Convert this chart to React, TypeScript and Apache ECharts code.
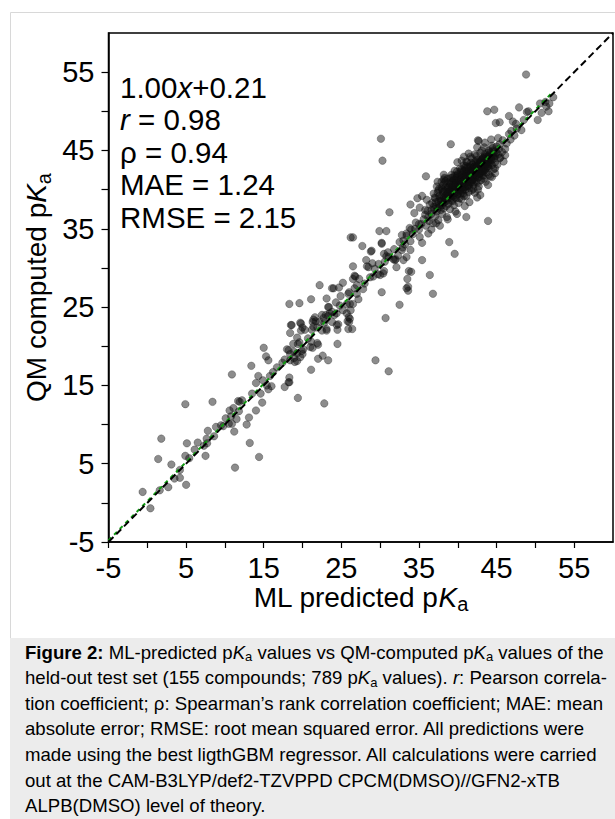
import React, { useEffect, useRef } from "react";
import * as echarts from "echarts";

// ---------- axis / ticks ----------
const axisMin = -5;
const axisMax = 60;
const tickStep = 5;
const xTickLabels = ["-5", "5", "15", "25", "35", "45", "55"];
const yTickLabels = ["-5", "5", "15", "25", "35", "45", "55"];

// ---------- reference lines ----------
const fitSlope = 1.0;
const fitIntercept = 0.21;
const fitXRange = [-5, 52];
const identityRange = [-5, 60];

// ---------- statistics box ----------
const statLines = [
  "{n|1.00}{i|x}{n|+0.21}",
  "{i|r}{n| = 0.98}",
  "{n|ρ = 0.94}",
  "{n|MAE = 1.24}",
  "{n|RMSE = 2.15}",
];

// ---------- caption ----------
const captionLines = [
  "{b|Figure 2:} ML-predicted p{i|K}{s|a} values vs QM-computed p{i|K}{s|a} values of the",
  "held-out test set (155 compounds; 789 p{i|K}{s|a} values). {i|r}: Pearson correla-",
  "tion coefficient; ρ: Spearman’s rank correlation coefficient; MAE: mean",
  "absolute error; RMSE: root mean squared error. All predictions were",
  "made using the best ligthGBM regressor. All calculations were carried",
  "out at the CAM-B3LYP/def2-TZVPPD CPCM(DMSO)//GFN2-xTB",
  "ALPB(DMSO) level of theory.",
];

// ---------- data: [ML predicted, QM computed] ----------
const lowPoints = [
  [-0.6, 1.4], [0.4, -0.7], [1.6, 1.6], [2.7, 2.0], [1.4, 5.6], [1.8, 8.2], [3.1, 4.9],
  [3.5, 3.1], [4.2, 3.2], [4.2, 4.2], [5.0, 2.3], [4.9, 6.0], [5.4, 5.7], [5.1, 7.6],
  [6.1, 6.8], [6.5, 7.7], [4.9, 12.6], [7.3, 7.3], [7.5, 6.0], [7.7, 7.6], [7.65, 8.2],
  [7.8, 9.2], [8.6, 8.5], [8.85, 9.7], [8.4, 12.9], [9.5, 9.9], [9.8, 9.8], [10.1, 10.8],
  [10.5, 10.1], [10.9, 10.1], [10.6, 11.8], [10.8, 11.05], [11.1, 12.1], [11.5, 10.7],
  [11.8, 11.7], [11.9, 12.9], [12.2, 13.1], [11.7, 13.0], [11.2, 9.1], [11.3, 4.5],
  [12.8, 10.0], [13.1, 10.9], [13.2, 7.65], [14.4, 5.86], [14.0, 11.8], [14.8, 12.8],
  [13.5, 13.95], [14.6, 13.95], [14.0, 15.3], [14.3, 16.2], [14.9, 15.65], [15.4, 15.0],
  [15.6, 14.5], [16.0, 14.9], [18.2, 15.4], [10.9, 16.4], [13.4, 17.5],
];

const midPoints = [
  [15.0, 19.8], [15.3, 18.7], [15.6, 18.2], [15.8, 16.2], [16.2, 16.7], [16.7, 17.3],
  [17.4, 17.9], [17.7, 18.3], [17.7, 14.8], [18.3, 16.0], [18.3, 15.4], [18.2, 19.5],
  [18.4, 19.0], [18.9, 18.5], [19.3, 18.1], [19.7, 18.6], [19.9, 19.4], [20.0, 19.0],
  [18.0, 19.6], [18.9, 19.3], [19.3, 19.1], [18.4, 18.2], [19.0, 18.0], [19.4, 13.4],
  [22.8, 12.7], [21.1, 17.0], [18.4, 21.7], [18.6, 22.7], [19.3, 21.1], [19.4, 20.3],
  [18.8, 20.3], [19.6, 20.5], [20.1, 19.6], [20.7, 21.0], [21.1, 20.6], [21.3, 19.8],
  [22.0, 20.2], [22.6, 18.8], [22.0, 18.4], [23.3, 18.2], [21.0, 19.9], [21.9, 20.4],
  [24.5, 20.3], [19.8, 22.9], [20.0, 22.4], [19.8, 22.0], [20.3, 22.1], [18.5, 22.7],
  [19.7, 23.0], [21.4, 23.4], [21.7, 23.2], [22.2, 23.1], [21.2, 22.1], [21.4, 22.5],
  [21.6, 23.7], [21.3, 23.1], [21.9, 22.4], [22.5, 22.0], [23.1, 22.2], [23.0, 24.0],
  [23.3, 25.0], [23.8, 24.4], [24.4, 24.2], [25.2, 24.6], [25.7, 24.2], [26.1, 23.5],
  [26.0, 23.1], [26.4, 22.2], [25.9, 22.2], [24.5, 22.1], [24.6, 22.8], [23.4, 25.0],
  [23.5, 24.2], [23.8, 23.1], [24.1, 24.0], [24.4, 22.7], [22.8, 23.0], [23.3, 23.9],
  [22.5, 24.0], [22.7, 23.6], [23.1, 22.0], [18.3, 25.4], [19.6, 25.5], [21.1, 26.0],
  [22.2, 27.8], [23.1, 26.1], [23.8, 27.4], [24.0, 27.4], [24.7, 27.5], [25.2, 28.1],
  [24.9, 26.4], [25.9, 26.7], [26.1, 25.4], [26.7, 27.4], [27.2, 26.0], [26.2, 24.6],
  [25.95, 23.7], [25.8, 23.2], [27.0, 26.7], [25.7, 25.4], [26.5, 25.4], [24.8, 25.2],
  [24.3, 25.6], [26.0, 26.9], [27.0, 27.8], [27.8, 27.3], [27.3, 28.6], [28.0, 28.0],
  [28.7, 28.8],
];

const upperPoints = [
  [26.2, 33.9], [26.5, 33.9], [26.5, 30.2], [26.8, 28.9], [26.5, 28.6], [26.7, 29.0],
  [27.7, 32.8], [28.9, 32.2], [28.2, 31.0], [28.3, 30.2], [28.8, 32.1], [28.5, 30.1],
  [29.3, 29.9], [30.0, 29.1], [30.4, 29.3], [29.1, 28.9], [29.7, 29.2], [30.5, 29.6],
  [30.2, 26.9], [30.7, 23.6], [29.4, 18.2], [31.1, 16.8], [32.5, 25.3], [33.5, 28.6],
  [33.6, 27.1], [33.4, 31.4], [32.9, 32.6], [33.4, 34.1], [29.9, 34.7], [30.8, 34.7],
  [30.2, 33.1], [30.5, 31.8], [30.8, 31.5], [31.7, 31.1], [32.0, 31.1], [31.2, 37.1],
  [30.1, 46.5], [30.3, 43.7], [32.8, 34.2], [33.4, 34.4], [33.0, 33.5], [33.9, 33.4],
  [35.4, 33.2], [35.1, 33.95], [36.2, 34.4], [36.6, 34.9], [37.2, 35.7], [37.7, 35.4],
  [38.6, 36.5], [39.9, 36.9], [41.1, 36.5], [43.9, 36.0], [42.9, 39.3], [38.9, 33.3],
  [39.6, 31.8], [35.4, 31.0], [36.4, 29.1], [36.8, 26.7], [33.7, 29.6], [34.0, 29.5],
  [33.6, 27.6], [33.4, 27.4], [30.2, 33.2], [31.1, 31.4], [32.3, 31.6], [32.8, 32.3],
  [33.9, 32.3], [33.0, 31.0], [31.9, 31.0], [32.1, 30.1], [34.4, 37.0], [35.1, 37.7],
  [35.8, 37.4], [33.9, 38.1], [34.8, 38.9], [35.4, 39.2], [35.9, 41.7], [37.4, 41.0],
  [38.1, 40.6], [37.6, 40.1], [38.2, 41.3], [39.1, 45.8], [39.95, 43.5], [40.5, 43.7],
  [42.5, 45.4], [42.7, 46.2], [42.6, 46.3], [34.5, 35.0], [35.0, 35.6], [34.0, 34.9],
  [33.2, 33.0], [32.5, 33.3], [31.8, 32.4], [31.0, 32.0], [30.6, 30.8], [29.8, 30.5],
  [29.0, 30.6],
];

const topPoints = [
  [48.8, 54.7], [43.8, 50.0], [44.7, 50.2], [44.9, 48.5], [45.4, 48.6], [46.6, 49.4],
  [47.9, 50.5], [47.1, 48.7], [47.5, 48.4], [49.1, 50.0], [48.9, 49.9], [50.3, 48.9],
  [50.8, 49.8], [50.6, 51.0], [51.3, 51.2], [51.8, 51.0], [51.7, 50.0], [52.3, 51.8],
  [51.4, 50.6], [46.6, 47.1], [45.2, 46.6], [46.1, 45.2], [46.1, 44.4], [45.4, 44.0],
  [44.4, 41.6], [44.8, 42.7], [43.4, 45.4],
];

const clusterPoints = [
  [35.6, 36.2], [35.9, 35.4], [36.1, 37.3], [36.3, 36.0], [36.4, 38.1], [36.6, 36.9],
  [36.8, 35.7], [36.9, 37.8], [37.0, 39.0], [37.1, 36.6], [37.2, 38.4], [37.3, 37.2],
  [37.4, 39.6], [37.5, 36.1], [37.6, 38.0], [37.7, 38.9], [37.8, 37.4], [37.9, 40.2],
  [38.0, 39.3], [38.0, 36.9], [38.1, 38.3], [38.2, 37.6], [38.3, 39.8], [38.3, 40.9],
  [38.4, 38.8], [38.5, 37.9], [38.6, 39.4], [38.7, 41.4], [38.7, 40.3], [38.8, 38.2],
  [38.9, 39.0], [39.0, 40.7], [39.0, 37.5], [39.1, 39.8], [39.2, 41.9], [39.2, 38.6],
  [39.3, 40.2], [39.4, 39.2], [39.4, 41.1], [39.5, 38.0], [39.6, 40.6], [39.6, 42.4],
  [39.7, 39.6], [39.8, 41.5], [39.8, 38.9], [39.9, 40.1], [40.0, 42.0], [40.0, 39.4],
  [40.1, 41.0], [40.1, 38.3], [40.2, 40.5], [40.3, 42.7], [40.3, 39.8], [40.4, 41.4],
  [40.5, 40.2], [40.5, 38.8], [40.6, 42.2], [40.6, 41.0], [40.7, 39.5], [40.8, 43.1],
  [40.8, 40.7], [40.9, 41.8], [41.0, 40.0], [41.0, 42.5], [41.1, 39.2], [41.2, 41.3],
  [41.2, 43.5], [41.3, 40.5], [41.4, 42.0], [41.4, 39.7], [41.5, 41.6], [41.6, 43.0],
  [41.6, 40.9], [41.7, 42.4], [41.8, 39.9], [41.8, 44.0], [41.9, 41.2], [42.0, 42.8],
  [42.0, 40.6], [42.1, 43.4], [42.2, 41.8], [42.2, 39.6], [42.3, 42.2], [42.4, 44.3],
  [42.4, 41.0], [42.5, 43.0], [42.6, 41.5], [42.6, 42.6], [42.7, 40.4], [42.8, 43.7],
  [42.8, 42.0], [42.9, 44.7], [43.0, 41.2], [43.0, 43.1], [43.1, 42.4], [43.2, 44.0],
  [43.3, 41.8], [43.3, 43.5], [43.4, 42.8], [43.5, 44.5], [43.6, 41.0], [43.6, 43.2],
  [43.7, 42.2], [43.8, 44.0], [43.9, 43.6], [44.0, 42.7], [44.0, 45.0], [44.1, 43.9],
  [44.2, 41.7], [44.3, 44.4], [44.4, 43.1], [44.5, 45.3], [44.6, 42.6], [44.7, 44.0],
  [44.8, 43.5], [45.0, 44.7], [45.1, 43.2], [45.3, 45.2], [45.5, 44.1], [45.7, 44.8],
  [45.9, 43.6], [38.6, 40.0], [38.9, 40.4], [39.1, 40.9], [39.3, 41.5], [39.5, 40.4],
  [39.7, 41.2], [39.9, 41.8], [40.0, 40.8], [40.2, 41.7], [40.4, 40.6], [40.4, 42.3],
  [40.7, 41.6], [40.9, 42.8], [41.1, 42.1], [41.1, 40.9], [41.3, 42.9], [41.5, 42.4],
  [41.7, 41.4], [41.9, 43.2], [42.1, 42.0], [42.3, 43.6], [42.5, 42.3], [42.7, 43.3],
  [42.9, 42.1], [43.1, 43.8], [43.4, 43.9], [43.7, 43.5], [43.9, 44.3], [44.2, 43.5],
  [44.6, 44.5], [40.2, 39.9], [40.6, 40.3], [41.0, 41.0], [41.3, 41.7], [41.7, 41.9],
  [42.0, 41.4], [42.4, 42.7], [42.8, 42.9], [43.2, 42.8], [43.5, 43.0], [39.0, 39.4],
  [39.4, 39.9], [38.4, 39.2], [38.1, 39.7], [37.8, 38.6], [37.4, 37.6], [37.0, 37.5],
  [36.6, 37.4], [36.2, 36.5], [35.8, 36.8], [35.3, 35.6], [35.0, 34.9], [34.6, 35.8],
  [34.2, 34.3], [33.8, 35.1], [36.0, 38.7], [36.9, 39.5], [37.3, 40.4], [38.2, 41.9],
  [40.8, 44.2], [41.4, 44.6], [43.5, 46.0], [44.3, 46.4], [45.8, 46.3], [44.8, 42.1],
  [43.9, 40.6], [42.5, 39.0], [41.5, 38.4], [40.9, 37.9], [39.7, 37.2], [38.7, 36.2],
  [46.3, 45.9], [46.8, 46.4], [47.3, 46.9], [47.6, 47.8], [46.9, 47.5], [48.2, 47.6],
  [48.5, 48.9],
];

const coreClusterPoints = [
  [37.6, 39.2], [37.9, 38.5], [38.2, 39.0], [38.4, 40.3], [38.6, 38.6], [38.8, 39.7],
  [38.9, 41.0], [39.1, 38.9], [39.2, 40.4], [39.3, 39.6], [39.5, 41.3], [39.6, 39.0],
  [39.8, 40.3], [39.9, 39.3], [40.0, 41.3], [40.1, 40.2], [40.3, 40.9], [40.4, 39.5],
  [40.5, 41.9], [40.6, 39.9], [40.7, 40.8], [40.8, 42.4], [40.9, 40.3], [41.0, 41.5],
  [41.1, 43.0], [41.2, 40.6], [41.3, 42.3], [41.4, 41.1], [41.5, 40.2], [41.6, 42.0],
  [41.7, 43.4], [41.8, 41.0], [41.9, 42.6], [42.0, 41.9], [42.1, 40.9], [42.2, 43.0],
  [42.3, 41.6], [42.4, 42.4], [42.5, 43.8], [42.6, 40.9], [42.7, 42.8], [42.8, 41.6],
  [42.9, 43.5], [43.0, 42.6], [43.1, 41.8], [43.2, 43.3], [43.3, 42.3], [43.4, 44.2],
  [43.5, 42.5], [43.6, 43.8], [43.8, 42.9], [43.9, 44.7], [44.0, 43.3], [44.2, 44.8],
  [44.4, 43.8], [44.6, 45.0], [44.8, 44.3], [45.0, 45.5], [45.2, 44.5], [45.4, 45.8],
  [36.7, 38.3], [37.1, 38.9], [37.5, 39.9], [37.9, 41.0], [38.3, 41.5],
];

const denseCorePoints = [
  [38.0, 38.0], [38.3, 38.4], [38.5, 38.9], [38.8, 39.2], [39.0, 39.9], [39.2, 39.3],
  [39.4, 40.6], [39.5, 39.6], [39.7, 40.0], [39.8, 40.8], [40.0, 40.0], [40.1, 40.6],
  [40.2, 41.2], [40.3, 40.4], [40.4, 41.0], [40.5, 40.7], [40.6, 41.5], [40.7, 40.1],
  [40.8, 41.1], [40.9, 41.4], [41.0, 40.5], [41.1, 41.8], [41.2, 42.0], [41.3, 41.2],
  [41.4, 42.5], [41.5, 41.0], [41.6, 41.7], [41.7, 42.8], [41.8, 42.2], [41.9, 41.7],
  [42.0, 42.4], [42.1, 42.9], [42.2, 42.3], [42.3, 42.8], [42.4, 41.9], [42.5, 42.8],
  [42.6, 43.4], [42.7, 42.1], [42.8, 43.2], [42.9, 42.6], [43.0, 43.6], [43.1, 43.1],
  [43.2, 42.4], [43.3, 44.0], [43.4, 43.3], [43.5, 43.6], [43.6, 42.7], [43.7, 44.2],
  [43.8, 43.3], [43.9, 43.0], [44.0, 44.1], [44.1, 44.5], [44.3, 43.9], [44.5, 44.3],
  [44.7, 44.8], [37.2, 37.9], [37.5, 38.5], [37.7, 37.8], [38.0, 40.0], [38.4, 41.1],
  [38.7, 39.4], [39.1, 41.5], [39.3, 38.5], [39.6, 41.8], [39.9, 42.3], [40.2, 38.9],
  [40.5, 42.6], [40.8, 39.2], [41.1, 43.6], [41.4, 40.5], [41.6, 44.2], [42.0, 40.1],
  [42.2, 44.5], [42.6, 40.0], [43.1, 45.0], [43.4, 41.4], [44.0, 41.9], [44.4, 45.6],
];

const FONT = "'Liberation Sans', Arial, Helvetica, sans-serif";

export default function App() {
  const ref = useRef<HTMLDivElement>(null);

  useEffect(() => {
    if (!ref.current) return;
    const chart = echarts.init(ref.current, undefined, { renderer: "svg" });

    const allPoints = [
      ...lowPoints,
      ...midPoints,
      ...upperPoints,
      ...topPoints,
      ...clusterPoints,
      ...coreClusterPoints,
      ...denseCorePoints,
    ];

    const fitLine = fitXRange.map((x) => [x, fitSlope * x + fitIntercept]);
    const idLine = identityRange.map((v) => [v, v]);

    const gridLeft = 108.5;
    const gridTop = 33;
    const gridW = 504.5;
    const gridH = 509;

    const nameRich = {
      i: { fontSize: 28, fontStyle: "italic", fontFamily: FONT, lineHeight: 34, color: "#000" },
      s: { fontSize: 20, fontFamily: FONT, lineHeight: 14, verticalAlign: "bottom", color: "#000" },
    };

    const statGraphics = statLines.map((t, k) => ({
      type: "text",
      x: 120,
      y: 87 + k * 32.5,
      silent: true,
      style: {
        text: t,
        fill: "#000",
        verticalAlign: "middle",
        align: "left",
        font: `29.5px ${FONT}`,
        rich: {
          n: { fontSize: 29.5, fontFamily: FONT, color: "#000" },
          i: { fontSize: 29.5, fontFamily: FONT, fontStyle: "italic", color: "#000" },
        },
      },
    }));

    const capSize = 18.6;
    const captionGraphics = captionLines.map((t, k) => ({
      type: "text",
      x: 25,
      y: 652 + k * 25.6,
      silent: true,
      z: 10,
      style: {
        text: t,
        fill: "#000",
        verticalAlign: "middle",
        align: "left",
        fontSize: capSize,
        fontFamily: FONT,
        lineHeight: 22,
        rich: {
          b: { fontSize: capSize, fontFamily: FONT, fontWeight: "bold", lineHeight: 22, color: "#000" },
          i: { fontSize: capSize, fontFamily: FONT, fontStyle: "italic", lineHeight: 22, color: "#000" },
          s: { fontSize: 13, fontFamily: FONT, lineHeight: 8, verticalAlign: "bottom", color: "#000" },
        },
      },
    }));

    chart.setOption({
      animation: false,
      backgroundColor: "#fff",
      grid: {
        left: gridLeft,
        top: gridTop,
        width: gridW,
        height: gridH,
        show: true,
        borderColor: "#000",
        borderWidth: 1.5,
        backgroundColor: "transparent",
      },
      xAxis: {
        type: "value",
        min: axisMin,
        max: axisMax,
        interval: tickStep,
        name: "ML predicted p{i|K}{s|a}",
        nameLocation: "middle",
        nameGap: 38,
        nameMoveOverlap: false,
        nameTextStyle: {
          fontSize: 28,
          fontFamily: FONT,
          color: "#000",
          lineHeight: 34,
          rich: nameRich,
        },
        axisLine: { show: true, onZero: false, lineStyle: { color: "#000", width: 1.5 } },
        axisTick: { show: true, inside: false, length: 6, lineStyle: { color: "#000", width: 1.2 } },
        axisLabel: {
          show: true,
          margin: 11,
          fontSize: 29,
          fontFamily: FONT,
          color: "#000",
          showMaxLabel: false,
          formatter: (v: number) => {
            const s = String(v);
            return xTickLabels.includes(s) ? s : "";
          },
        },
        splitLine: { show: false },
      },
      yAxis: {
        type: "value",
        min: axisMin,
        max: axisMax,
        interval: tickStep,
        name: "QM computed p{i|K}{s|a}",
        nameLocation: "middle",
        nameGap: 55,
        nameRotate: 90,
        nameMoveOverlap: false,
        nameTextStyle: {
          fontSize: 28,
          fontFamily: FONT,
          color: "#000",
          lineHeight: 34,
          rich: nameRich,
        },
        axisLine: { show: true, onZero: false, lineStyle: { color: "#000", width: 1.5 } },
        axisTick: { show: true, inside: false, length: 7, lineStyle: { color: "#000", width: 1.2 } },
        axisLabel: {
          show: true,
          margin: 14,
          fontSize: 29,
          fontFamily: FONT,
          color: "#000",
          showMaxLabel: false,
          formatter: (v: number) => {
            const s = String(v);
            return yTickLabels.includes(s) ? s : "";
          },
        },
        splitLine: { show: false },
      },
      series: [
        {
          type: "scatter",
          data: allPoints,
          symbol: "circle",
          symbolSize: 7.5,
          itemStyle: {
            color: "rgba(15,15,15,0.6)",
            borderColor: "rgba(15,15,15,0.35)",
            borderWidth: 1,
          },
          z: 2,
        },
        {
          type: "line",
          data: fitLine,
          symbol: "none",
          lineStyle: { color: "#109a10", width: 2, type: [4, 4] },
          z: 3,
        },
        {
          type: "line",
          data: idLine,
          symbol: "none",
          lineStyle: { color: "#000", width: 2, type: [7, 4] },
          z: 4,
        },
      ],
      graphic: [
        {
          type: "rect",
          silent: true,
          z: -1,
          shape: { x: 10.5, y: 12.5, width: 620, height: 626 },
          style: { fill: "none", stroke: "#d8d8d8", lineWidth: 1 },
        },
        {
          type: "rect",
          silent: true,
          z: 5,
          shape: { x: 10, y: 638, width: 610, height: 190 },
          style: { fill: "#ececec", stroke: "none" },
        },
        ...statGraphics,
        ...captionGraphics,
      ],
    });

    return () => chart.dispose();
  }, []);

  return (
    <div
      ref={ref}
      style={{ position: "absolute", left: 0, top: 0, width: 615, height: 819 }}
    />
  );
}
